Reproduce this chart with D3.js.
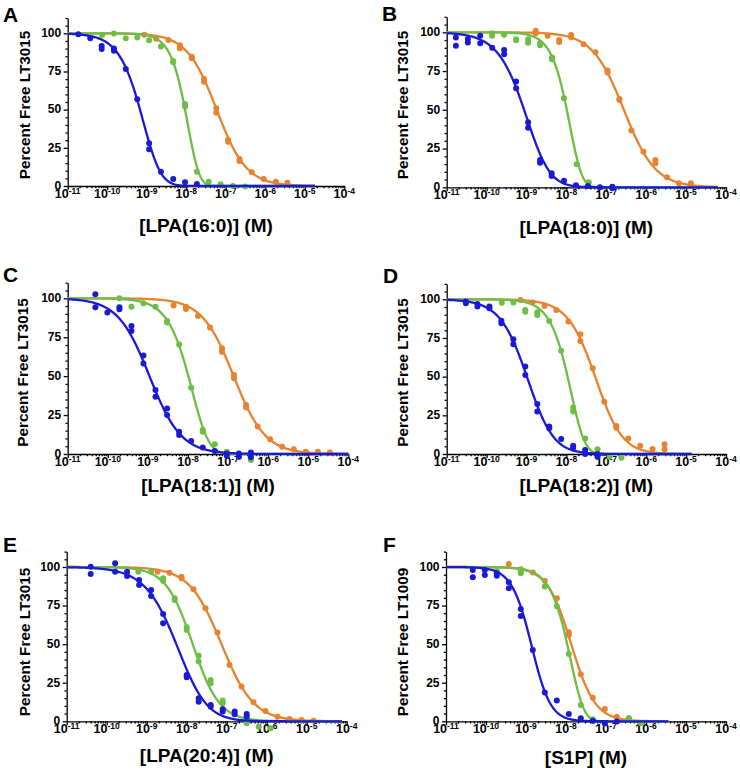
<!DOCTYPE html>
<html><head><meta charset="utf-8">
<script src="https://cdn.jsdelivr.net/npm/d3@7"></script>
<style>
body{margin:0;background:#fff}
svg text{font-family:"Liberation Sans",Arial,Helvetica,sans-serif;font-weight:bold;fill:#000}
</style>
</head><body>
<svg id="chart" width="740" height="775"></svg>
<script>
// ---------- DATA (x = log10 of molar concentration, y = percent free) ----------
const panelLetters = ["A","B","C","D","E","F"];
const xTitles = ["[LPA(16:0)] (M)","[LPA(18:0)] (M)","[LPA(18:1)] (M)","[LPA(18:2)] (M)","[LPA(20:4)] (M)","[S1P] (M)"];
const yTitles = ["Percent Free LT3015","Percent Free LT3015","Percent Free LT3015","Percent Free LT3015","Percent Free LT3015","Percent Free LT1009"];
const xTickExponents = [-11,-10,-9,-8,-7,-6,-5,-4];
const yTickValues = [0,25,50,75,100];
const seriesNames = ["orange","green","blue"];

const orangeA = [[-9.06,99.1],[-8.76,96.5],[-8.45,95.6],[-8.16,92.1],[-8.16,90.2],[-7.86,84.7],[-7.86,83.6],[-7.55,70],[-7.55,68.3],[-7.24,50.9],[-7.24,48],[-6.94,30.1],[-6.94,29],[-6.65,17.7],[-6.65,16.4],[-6.34,9],[-6.04,4.6],[-5.73,2.8],[-5.44,2.2]];
const greenA = [[-10.13,98.9],[-9.83,99.8],[-9.53,96.7],[-9.24,97.2],[-8.94,95.4],[-8.64,91.3],[-8.33,81.9],[-8.33,81],[-8.03,53.7],[-8.03,52],[-7.73,9.4],[-7.43,2.8],[-7.13,1.1],[-6.82,0],[-6.51,-0.4]];
const blueA = [[-10.73,99.3],[-10.43,96.7],[-10.14,91.7],[-10.14,89.7],[-9.83,90],[-9.83,88.6],[-9.53,76.6],[-9.24,56.8],[-8.94,28],[-8.94,24],[-8.64,9.4],[-8.33,4.6],[-8.03,2.4],[-7.73,1.3]];

const orangeB = [[-8.77,101],[-8.77,99.4],[-8.47,97.8],[-8.18,95],[-8.18,93.8],[-7.88,98.3],[-7.88,96.8],[-7.57,92.3],[-7.27,87.1],[-6.97,75.3],[-6.97,74],[-6.67,57],[-6.67,56.3],[-6.37,36.6],[-6.07,23],[-5.77,17.6],[-5.77,15.5],[-5.48,6.5],[-5.18,2.6],[-4.88,2.6],[-4.88,1.1]];
const greenB = [[-9.86,99.4],[-9.86,97.8],[-9.56,98.5],[-9.26,95.5],[-9.26,94.8],[-8.96,95.5],[-8.96,93.3],[-8.66,92.9],[-8.66,91.6],[-8.36,83.7],[-8.36,82.6],[-8.06,57.4],[-7.74,14.8],[-7.44,3.2]];
const blueB = [[-10.77,96.6],[-10.77,91.4],[-10.47,95.7],[-10.47,93.5],[-10.16,97.8],[-10.16,92.9],[-9.86,90.1],[-9.56,88.6],[-9.56,85.8],[-9.26,68.2],[-9.26,63.9],[-8.96,41.9],[-8.96,38.5],[-8.66,17.6],[-8.66,15.9],[-8.37,9],[-8.37,7.3],[-8.06,4.3],[-7.76,1.3],[-7.46,0.9],[-7.16,0],[-6.85,0.4],[-6.85,-0.6]];

const orangeC = [[-8.36,95.3],[-8.05,94.6],[-8.05,93.1],[-7.75,88.7],[-7.45,81.2],[-7.15,67.9],[-7.15,65.7],[-6.85,50.7],[-6.85,48.6],[-6.55,31.5],[-6.55,29.8],[-6.26,17.6],[-5.95,9.4],[-5.65,4.7],[-5.36,3],[-5.06,1.5],[-4.76,1.5],[-4.46,0.9]];
const greenC = [[-9.71,100],[-9.41,94.6],[-9.11,96.8],[-8.81,94.6],[-8.52,85.4],[-8.52,84.4],[-8.22,70.4],[-7.92,42.6],[-7.63,15.4],[-7.63,14.3],[-7.33,6.2],[-7.03,1.5],[-6.73,-1.7],[-6.43,-3.9]];
const blueC = [[-10.31,102.6],[-10.31,94.2],[-10.01,90.8],[-9.71,94.2],[-9.71,92.9],[-9.41,82.2],[-9.41,79],[-9.11,63.2],[-9.11,58.2],[-8.81,41.1],[-8.81,36.8],[-8.52,29.3],[-8.52,25.1],[-8.22,14.3],[-8.22,12.2],[-7.92,8.4],[-7.63,4.1],[-7.33,1.9],[-7.03,0.4],[-7.03,-1.1],[-6.73,0.4],[-6.73,-1.7],[-6.43,0.9],[-6.43,-2.1]];

const orangeD = [[-9.15,99.6],[-8.85,98],[-8.55,95.7],[-8.25,93.1],[-7.95,85.6],[-7.65,77.4],[-7.65,73.1],[-7.34,55.4],[-7.05,33.8],[-6.75,18.1],[-6.75,17],[-6.45,10.1],[-6.15,5.4],[-5.84,3.2],[-5.54,6.3],[-5.54,3]];
const greenD = [[-9.62,97.8],[-9.33,98],[-9.03,93.1],[-9.03,92],[-8.73,91.6],[-8.73,89.9],[-8.43,86],[-8.13,66.8],[-7.83,30],[-7.83,27.4],[-7.53,10.1],[-7.22,3],[-6.92,-1.7],[-6.62,-2.4]];
const blueD = [[-10.52,98.5],[-10.52,97.4],[-10.23,97],[-10.23,95.3],[-9.93,95.3],[-9.93,94.2],[-9.63,86.2],[-9.63,84.5],[-9.33,74.1],[-9.33,70.9],[-9.03,56.5],[-9.03,51.1],[-8.73,32.3],[-8.73,27.4],[-8.43,17.7],[-8.43,16.6],[-8.13,9.7],[-7.83,5.4],[-7.83,4.1],[-7.53,2.6],[-7.53,0],[-7.22,0],[-7.22,-1.7]];

const orangeE = [[-8.73,97],[-8.43,96.3],[-8.13,93.7],[-8.13,92.7],[-7.83,85.5],[-7.53,73.2],[-7.23,57.5],[-6.93,36.5],[-6.63,22.5],[-6.33,12.3],[-6.03,6.7],[-5.73,3],[-5.43,1.5],[-5.13,0.9],[-4.83,0.4]];
const greenE = [[-9.21,97],[-8.89,97],[-8.59,92.7],[-8.59,91.1],[-8.3,79.7],[-8.3,78.6],[-8.0,60.9],[-8.0,59.2],[-7.7,42.5],[-7.7,38.7],[-7.4,26.8],[-7.4,24.6],[-7.1,13.4],[-7.1,11.7],[-6.5,-1.3],[-6.2,-3.5],[-5.9,-4.5]];
const blueE = [[-10.4,100.2],[-10.4,95.5],[-9.79,102.4],[-9.79,97],[-9.49,97],[-9.49,94.2],[-9.19,91.6],[-9.19,88.3],[-8.89,85.1],[-8.89,81.2],[-8.59,69.5],[-8.59,63.5],[-8.0,30],[-8.0,28.5],[-7.7,14.9],[-7.7,12.7],[-7.4,10.6],[-7.4,9.5],[-7.1,7.8],[-7.1,6.3],[-6.8,6.3],[-6.8,4.5],[-6.5,4.8],[-6.5,3]];

const orangeF = [[-9.43,101.9],[-9.13,98.5],[-8.83,96.5],[-8.53,91.1],[-8.23,79.7],[-7.93,57.7],[-7.93,56],[-7.63,30.5],[-7.33,15.3],[-7.03,8],[-6.73,3],[-6.43,1.9]];
const greenF = [[-9.73,97.4],[-9.13,97],[-9.13,95.9],[-8.53,87.4],[-8.23,74.5],[-7.93,43.6],[-7.63,10.6],[-7.33,1.3],[-7.03,-1.3],[-6.43,1.9],[-6.13,-1.3]];
const blueF = [[-10.33,98.1],[-10.33,93.3],[-10.03,98.1],[-10.03,94.8],[-9.73,95.9],[-9.73,94.4],[-9.43,90.1],[-9.43,86.2],[-9.13,72.8],[-9.13,68.3],[-8.83,46.2],[-8.53,18.6],[-8.23,13.4],[-7.93,4.8],[-7.63,1.9],[-7.33,0.4],[-7.03,-1.3],[-6.73,-0.2]];

// fitted asymmetric sigmoid (5PL, top 100 / bottom 0): [logEC50, |HillSlope|, asymmetry S]
const fitA = [[-7.23,1.15,1],[-8.03,1.8,5],[-9.17,1.3,3]];
const fitB = [[-6.56,1.1,1],[-7.99,1.7,5],[-9.06,1.12,2]];
const fitC = [[-6.86,1.1,1],[-7.99,1.3,4],[-8.96,1.1,1]];
const fitD = [[-7.28,1.2,1.2],[-7.97,1.5,5],[-8.99,1.2,1.3]];
const fitE = [[-7.13,1.08,1],[-7.85,1.3,1],[-8.26,1.0,1.5]];
const fitF = [[-7.87,1.45,1],[-7.97,1.55,5],[-8.87,1.7,1.2]];
// log10 concentration where the fitted curves end
const curveEnd = [-4.74,-4.19,-4.0,-4.86,-4.12,-5.44];

// ---------- LAYOUT / STYLE ----------
const colors = {orange:"#e8822e", green:"#6dbe45", blue:"#1a1ad6"};
const layout = [
  {x0:67.7, x1:344.3, y0:186,   y100:33.3,  lx:3,   ly:22,  tx:30,  ty:105,   xb:232},
  {x0:446.7,x1:726,   y0:187.3, y100:32.3,  lx:382, ly:21,  tx:408, ty:105,   xb:234},
  {x0:67.7, x1:348.3, y0:454,   y100:298.3, lx:3,   ly:282, tx:28,  ty:372.5, xb:492},
  {x0:446.7,x1:726,   y0:454,   y100:299.3, lx:383, ly:283, tx:408, ty:372.5, xb:492},
  {x0:66.7, x1:346.7, y0:721.3, y100:567,   lx:3,   ly:552, tx:30,  ty:642,   xb:762},
  {x0:446,  x1:726,   y0:721.3, y100:567,   lx:383, ly:552, tx:408, ty:642,   xb:764}
];
const panelData = [
  [orangeA,greenA,blueA],[orangeB,greenB,blueB],[orangeC,greenC,blueC],
  [orangeD,greenD,blueD],[orangeE,greenE,blueE],[orangeF,greenF,blueF]
];
const panelFits = [fitA,fitB,fitC,fitD,fitE,fitF];

function fit5(lx, p){
  const [ec, h, s] = p;
  const xb = ec - Math.log10(Math.pow(2, 1/s) - 1) / h;
  return 100 / Math.pow(1 + Math.pow(10, (lx - xb) * h), s);
}

const svg = d3.select("#chart");
svg.append("rect").attr("width",740).attr("height",775).attr("fill","#fff");

layout.forEach((L, i) => {
  const g = svg.append("g");
  const x = d3.scaleLog().domain([1e-11, 1e-4]).range([L.x0, L.x1]);
  const y = d3.scaleLinear().domain([0, 100]).range([L.y0, L.y100]);
  const yAxisScale = d3.scaleLinear().domain([0, 110]).range([L.y0, y(110)]);

  // x axis: major + minor ticks
  const majors = xTickExponents.map(e => Math.pow(10, e));
  const minors = [];
  for (let e = -11; e < -4; e++) for (let m = 2; m <= 9; m++) minors.push(m * Math.pow(10, e));
  g.append("g").attr("transform", `translate(0,${L.y0})`)
    .call(d3.axisBottom(x).tickValues(majors).tickFormat("").tickSizeInner(4).tickSizeOuter(0));
  g.append("g").attr("transform", `translate(0,${L.y0})`)
    .call(d3.axisBottom(x).tickValues(minors).tickFormat("").tickSizeInner(2.2).tickSizeOuter(0))
    .call(s => s.select(".domain").remove());

  // y axis
  const yMinors = d3.range(5, 111, 5).filter(v => v % 25 !== 0);
  g.append("g").attr("transform", `translate(${L.x0},0)`)
    .call(d3.axisLeft(yAxisScale).tickValues(yTickValues).tickFormat("").tickSizeInner(4).tickSizeOuter(0));
  g.append("g").attr("transform", `translate(${L.x0},0)`)
    .call(d3.axisLeft(yAxisScale).tickValues(yMinors).tickFormat("").tickSizeInner(2.2).tickSizeOuter(0))
    .call(s => s.select(".domain").remove());
  g.selectAll(".domain, .tick line").attr("stroke", "#000").attr("stroke-width", 1.3);

  // tick labels
  xTickExponents.forEach(e => {
    const t = g.append("text").attr("x", x(Math.pow(10, e))).attr("y", L.y0 + 11.5)
      .attr("text-anchor", "middle").attr("font-size", 12.5);
    t.append("tspan").text("10");
    t.append("tspan").attr("font-size", 8.5).attr("dy", -4).text(String(e));
  });
  yTickValues.forEach(v => {
    g.append("text").attr("x", L.x0 - 6.5).attr("y", y(v) + 3.8)
      .attr("text-anchor", "end").attr("font-size", 12).text(v);
  });

  // titles
  g.append("text").attr("x", L.lx).attr("y", L.ly).attr("font-size", 21).text(panelLetters[i]);
  g.append("text").attr("transform", `translate(${L.tx},${L.ty}) rotate(-90)`)
    .attr("text-anchor", "middle").attr("font-size", 15.3).text(yTitles[i]);
  g.append("text").attr("x", (L.x0 + L.x1) / 2).attr("y", L.xb)
    .attr("text-anchor", "middle").attr("font-size", 19).text(xTitles[i]);

  // series
  const line = d3.line().x(d => x(Math.pow(10, d[0]))).y(d => y(d[1]));
  panelData[i].forEach((pts, k) => {
    const col = colors[seriesNames[k]];
    const p = panelFits[i][k];
    const curve = d3.range(-11, curveEnd[i] + 1e-9, 0.02).map(lx => [lx, fit5(lx, p)]);
    g.append("path").datum(curve).attr("d", line).attr("fill", "none")
      .attr("stroke", col).attr("stroke-width", 2.3);
    g.selectAll(null).data(pts).enter().append("circle")
      .attr("cx", d => x(Math.pow(10, d[0]))).attr("cy", d => y(d[1]))
      .attr("r", 3).attr("fill", col);
  });
});
</script>
</body></html>
